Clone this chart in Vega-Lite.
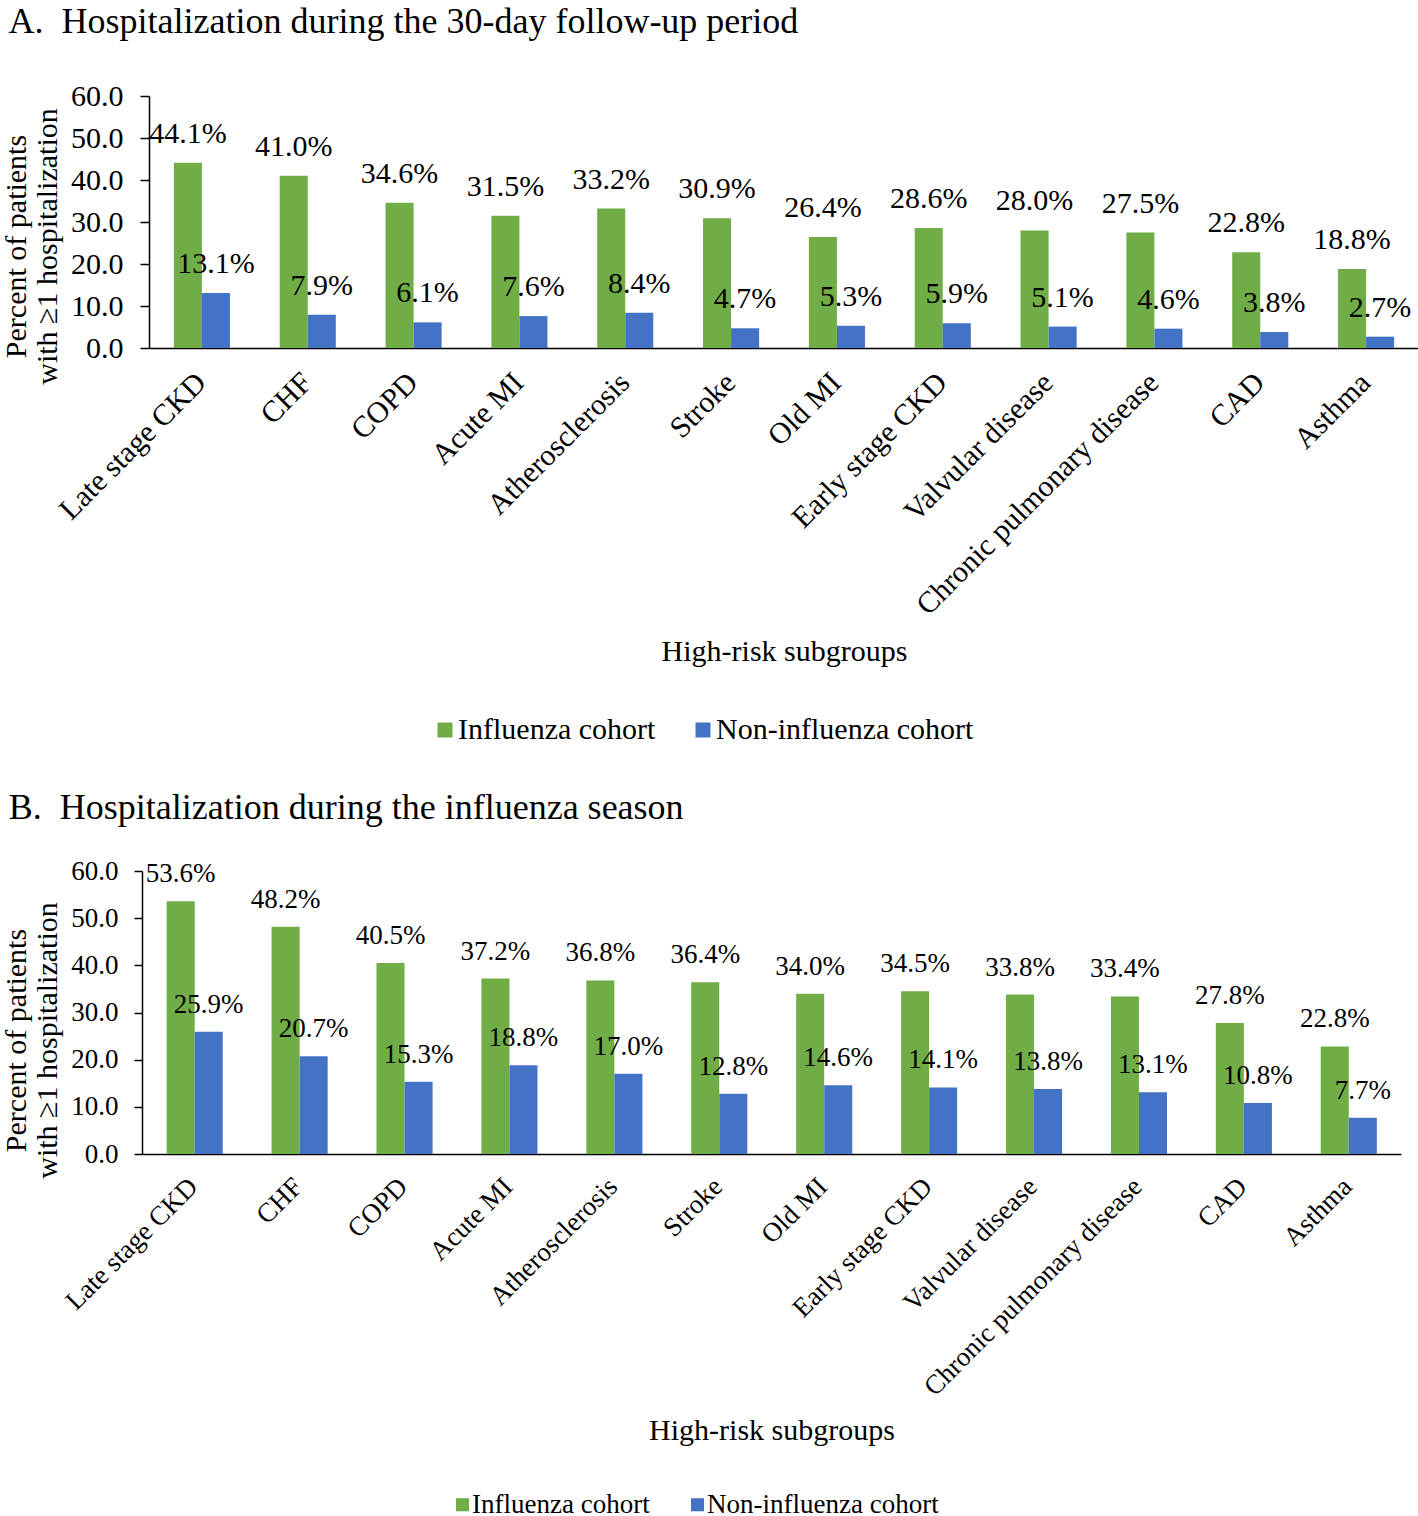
{
  "$schema": "https://vega.github.io/schema/vega-lite/v6.json",
  "padding": {"left": 1, "top": 4, "right": 0, "bottom": 0},
  "background": "white",
  "columns": 1,
  "align": "none",
  "spacing": 45,
  "resolve": {"legend": {"color": "independent"}, "scale": {"color": "independent"}},
  "config": {
    "font": "Liberation Serif",
    "view": {"stroke": null},
    "axis": {"domainColor": "black", "tickColor": "black", "labelColor": "black", "titleColor": "black", "titleFontWeight": "normal", "grid": false, "domainWidth": 1.5, "tickWidth": 1.5, "labelFont": "Liberation Serif", "titleFont": "Liberation Serif", "labelLimit": 0},
    "legend": {"labelColor": "black", "labelFont": "Liberation Serif", "labelLimit": 0},
    "title": {"color": "black", "fontWeight": "normal", "font": "Liberation Serif"},
    "text": {"font": "Liberation Serif"}
  },
  "datasets": {
    "a": [
      {"subgroup": "Late stage CKD", "cohort": "Influenza cohort", "value": 44.1},
      {"subgroup": "Late stage CKD", "cohort": "Non-influenza cohort", "value": 13.1},
      {"subgroup": "CHF", "cohort": "Influenza cohort", "value": 41.0},
      {"subgroup": "CHF", "cohort": "Non-influenza cohort", "value": 7.9},
      {"subgroup": "COPD", "cohort": "Influenza cohort", "value": 34.6},
      {"subgroup": "COPD", "cohort": "Non-influenza cohort", "value": 6.1},
      {"subgroup": "Acute MI", "cohort": "Influenza cohort", "value": 31.5},
      {"subgroup": "Acute MI", "cohort": "Non-influenza cohort", "value": 7.6},
      {"subgroup": "Atherosclerosis", "cohort": "Influenza cohort", "value": 33.2},
      {"subgroup": "Atherosclerosis", "cohort": "Non-influenza cohort", "value": 8.4},
      {"subgroup": "Stroke", "cohort": "Influenza cohort", "value": 30.9},
      {"subgroup": "Stroke", "cohort": "Non-influenza cohort", "value": 4.7},
      {"subgroup": "Old MI", "cohort": "Influenza cohort", "value": 26.4},
      {"subgroup": "Old MI", "cohort": "Non-influenza cohort", "value": 5.3},
      {"subgroup": "Early stage CKD", "cohort": "Influenza cohort", "value": 28.6},
      {"subgroup": "Early stage CKD", "cohort": "Non-influenza cohort", "value": 5.9},
      {"subgroup": "Valvular disease", "cohort": "Influenza cohort", "value": 28.0},
      {"subgroup": "Valvular disease", "cohort": "Non-influenza cohort", "value": 5.1},
      {"subgroup": "Chronic pulmonary disease", "cohort": "Influenza cohort", "value": 27.5},
      {"subgroup": "Chronic pulmonary disease", "cohort": "Non-influenza cohort", "value": 4.6},
      {"subgroup": "CAD", "cohort": "Influenza cohort", "value": 22.8},
      {"subgroup": "CAD", "cohort": "Non-influenza cohort", "value": 3.8},
      {"subgroup": "Asthma", "cohort": "Influenza cohort", "value": 18.8},
      {"subgroup": "Asthma", "cohort": "Non-influenza cohort", "value": 2.7}
    ],
    "b": [
      {"subgroup": "Late stage CKD", "cohort": "Influenza cohort", "value": 53.6},
      {"subgroup": "Late stage CKD", "cohort": "Non-influenza cohort", "value": 25.9},
      {"subgroup": "CHF", "cohort": "Influenza cohort", "value": 48.2},
      {"subgroup": "CHF", "cohort": "Non-influenza cohort", "value": 20.7},
      {"subgroup": "COPD", "cohort": "Influenza cohort", "value": 40.5},
      {"subgroup": "COPD", "cohort": "Non-influenza cohort", "value": 15.3},
      {"subgroup": "Acute MI", "cohort": "Influenza cohort", "value": 37.2},
      {"subgroup": "Acute MI", "cohort": "Non-influenza cohort", "value": 18.8},
      {"subgroup": "Atherosclerosis", "cohort": "Influenza cohort", "value": 36.8},
      {"subgroup": "Atherosclerosis", "cohort": "Non-influenza cohort", "value": 17.0},
      {"subgroup": "Stroke", "cohort": "Influenza cohort", "value": 36.4},
      {"subgroup": "Stroke", "cohort": "Non-influenza cohort", "value": 12.8},
      {"subgroup": "Old MI", "cohort": "Influenza cohort", "value": 34.0},
      {"subgroup": "Old MI", "cohort": "Non-influenza cohort", "value": 14.6},
      {"subgroup": "Early stage CKD", "cohort": "Influenza cohort", "value": 34.5},
      {"subgroup": "Early stage CKD", "cohort": "Non-influenza cohort", "value": 14.1},
      {"subgroup": "Valvular disease", "cohort": "Influenza cohort", "value": 33.8},
      {"subgroup": "Valvular disease", "cohort": "Non-influenza cohort", "value": 13.8},
      {"subgroup": "Chronic pulmonary disease", "cohort": "Influenza cohort", "value": 33.4},
      {"subgroup": "Chronic pulmonary disease", "cohort": "Non-influenza cohort", "value": 13.1},
      {"subgroup": "CAD", "cohort": "Influenza cohort", "value": 27.8},
      {"subgroup": "CAD", "cohort": "Non-influenza cohort", "value": 10.8},
      {"subgroup": "Asthma", "cohort": "Influenza cohort", "value": 22.8},
      {"subgroup": "Asthma", "cohort": "Non-influenza cohort", "value": 7.7}
    ]
  },
  "concat": [
    {
      "data": {"name": "a"},
      "title": {"text": "A.\u00a0\u00a0Hospitalization during the 30-day follow-up period", "anchor": "start", "frame": "bounds", "fontSize": 36, "offset": 40, "dx": 7},
      "width": 1270,
      "height": 252,
      "encoding": {
        "x": {
          "field": "subgroup", "type": "nominal",
          "sort": ["Late stage CKD", "CHF", "COPD", "Acute MI", "Atherosclerosis", "Stroke", "Old MI", "Early stage CKD", "Valvular disease", "Chronic pulmonary disease", "CAD", "Asthma"],
          "scale": {"paddingInner": 0.47, "paddingOuter": 0.235},
          "axis": {"title": "High-risk subgroups", "labelAngle": -45, "ticks": false, "labelFontSize": 30, "titleFontSize": 30, "labelPadding": 19, "labelOffset": -11, "titleBaseline": "middle", "titleY": 303}
        },
        "xOffset": {"field": "cohort", "type": "nominal", "sort": ["Influenza cohort", "Non-influenza cohort"], "scale": {"paddingInner": 0, "paddingOuter": 0}},
        "y": {
          "field": "value", "type": "quantitative",
          "scale": {"domain": [0, 60], "nice": false},
          "axis": {"title": ["Percent of patients", "with ≥1 hospitalization"], "values": [0, 10, 20, 30, 40, 50, 60], "format": ".1f", "labelFontSize": 30, "titleFontSize": 30, "tickSize": 9, "labelPadding": 17, "titlePadding": 8, "titleLineHeight": 31, "titleY": 150}
        }
      },
      "layer": [
        {
          "mark": {"type": "bar"},
          "encoding": {
            "color": {
              "field": "cohort", "type": "nominal",
              "scale": {"domain": ["Influenza cohort", "Non-influenza cohort"], "range": ["#70AD47", "#4472C4"]},
              "legend": {"title": null, "orient": "none", "direction": "horizontal", "legendX": 281, "legendY": 619, "labelFontSize": 30, "symbolType": "square", "symbolSize": 225, "symbolStrokeWidth": 0, "labelOffset": -2, "columnPadding": 32}
            }
          }
        },
        {
          "mark": {"type": "text", "baseline": "middle", "dy": -29, "fontSize": 30, "font": "Liberation Serif", "color": "black", "text": {"expr": "format(datum.value, '.1f') + '%'"}}
        }
      ]
    },
    {
      "data": {"name": "b"},
      "title": {"text": "B.\u00a0\u00a0Hospitalization during the influenza season", "anchor": "start", "frame": "bounds", "fontSize": 36, "offset": 30, "dx": 7},
      "width": 1252,
      "height": 283,
      "encoding": {
        "x": {
          "field": "subgroup", "type": "nominal",
          "sort": ["Late stage CKD", "CHF", "COPD", "Acute MI", "Atherosclerosis", "Stroke", "Old MI", "Early stage CKD", "Valvular disease", "Chronic pulmonary disease", "CAD", "Asthma"],
          "scale": {"paddingInner": 0.47, "paddingOuter": 0.235, "range": [-7, 1252]},
          "axis": {"title": "High-risk subgroups", "labelAngle": -45, "ticks": false, "labelFontSize": 27, "titleFontSize": 30, "labelPadding": 19, "labelOffset": -10, "titleBaseline": "middle", "titleY": 276}
        },
        "xOffset": {"field": "cohort", "type": "nominal", "sort": ["Influenza cohort", "Non-influenza cohort"], "scale": {"paddingInner": 0, "paddingOuter": 0}},
        "y": {
          "field": "value", "type": "quantitative",
          "scale": {"domain": [0, 60], "nice": false},
          "axis": {"title": ["Percent of patients", "with ≥1 hospitalization"], "offset": 7, "values": [0, 10, 20, 30, 40, 50, 60], "format": ".1f", "labelFontSize": 27, "titleFontSize": 30, "tickSize": 8, "labelPadding": 16, "titlePadding": 8, "titleLineHeight": 31, "titleY": 169}
        }
      },
      "layer": [
        {
          "mark": {"type": "bar"},
          "encoding": {
            "color": {
              "field": "cohort", "type": "nominal",
              "scale": {"domain": ["Influenza cohort", "Non-influenza cohort"], "range": ["#70AD47", "#4472C4"]},
              "legend": {"title": null, "orient": "none", "direction": "horizontal", "legendX": 300, "legendY": 620, "labelFontSize": 27, "symbolType": "square", "symbolSize": 170, "symbolStrokeWidth": 0, "labelOffset": -4, "columnPadding": 34}
            }
          }
        },
        {
          "mark": {"type": "text", "baseline": "middle", "dy": -27, "fontSize": 27, "font": "Liberation Serif", "color": "black", "text": {"expr": "format(datum.value, '.1f') + '%'"}}
        }
      ]
    }
  ]
}
